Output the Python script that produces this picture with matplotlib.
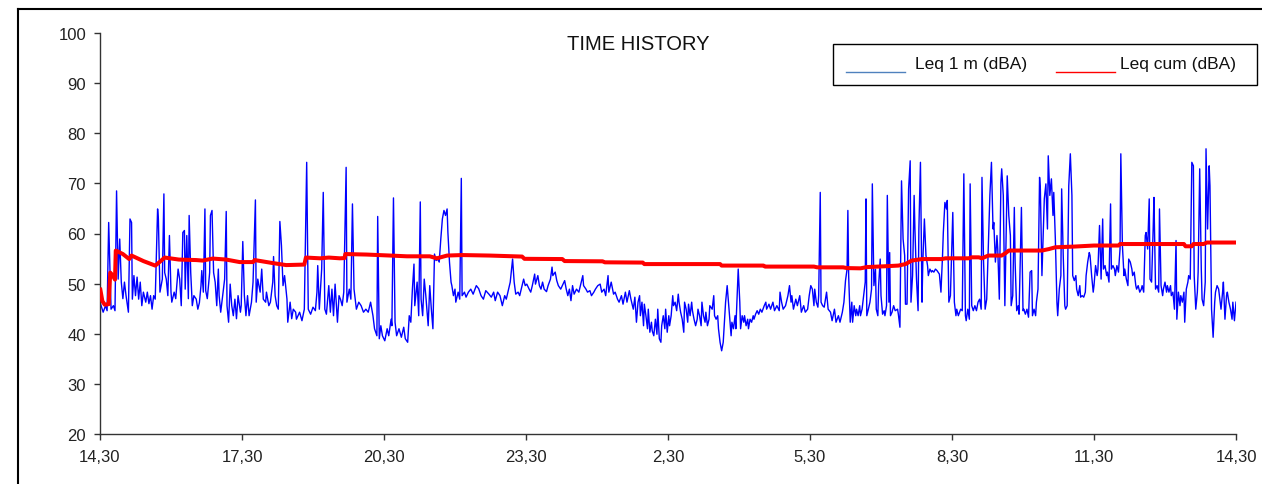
import matplotlib
matplotlib.use("Agg")
import matplotlib.pyplot as plt
from matplotlib.lines import Line2D
from matplotlib.patches import Rectangle

plt.rcParams['font.family'] = ['Liberation Sans', 'DejaVu Sans']

# ---------------- data (minutes after 14:30, dBA) ----------------
leq1m_1430_1730 = [(0,46.3),(4,44.3),(7,45.6),(9,44.6),(11,62.2),(14,44.9),(17,45.6),(19,44.6),(21,68.5),(23,50.9),(25,58.9),(27,50.3),(29,47.0),(31,50.3),(33,47.6),(36,44.3),(38,62.9),(40,62.2),(41,46.9),(43,51.6),(45,47.6),(47,51.3),(49,46.9),(51,50.3),(53,45.6),(55,48.3),(58,46.3),(60,48.3),(62,46.0),(64,47.6),(66,44.9),(68,47.6),(70,46.9),(73,64.9),(74,62.9),(76,48.3),(79,50.9),(81,67.9),(82,52.2),(84,50.9),(86,47.6),(88,59.6),(90,48.3),(91,46.3),(94,48.3),(96,47.0),(99,52.9),(101,50.9),(103,45.6),(105,60.2),(107,60.6),(108,48.9),(110,59.6),(112,47.0),(113,63.6),(115,52.2),(117,45.6),(119,47.6),(122,46.9),(124,44.9),(126,46.2),(128,49.6),(129,52.6),(131,48.3),(133,64.9),(134,48.6),(136,47.0),(139,52.2),(140,63.6),(142,64.6),(144,52.2),(146,50.3),(148,45.6),(150,52.9),(151,47.6),(153,44.3),(156,48.3),(158,50.9),(160,64.4),(161,45.6),(163,42.3),(165,49.9),(167,45.6),(169,43.6),(171,46.9),(173,43.0),(175,47.6),(178,44.3),(179,45.6)]
leq1m_1730_2030 = [(181,58.4),(183,47.6),(185,43.6),(187,47.6),(189,43.6),(192,46.3),(194,50.3),(197,66.7),(198,46.3),(200,50.9),(203,48.3),(205,52.9),(207,46.9),(210,46.3),(211,48.3),(214,45.6),(216,46.3),(219,50.3),(220,55.4),(222,47.6),(224,45.6),(226,44.9),(228,62.4),(230,57.6),(232,49.6),(234,51.6),(237,46.9),(238,42.3),(241,46.3),(243,43.0),(245,44.9),(248,44.3),(249,42.9),(253,44.3),(256,42.6),(259,44.9),(262,74.2),(264,44.9),(267,43.9),(270,45.3),(273,44.6),(275,48.3),(276,53.6),(278,44.9),(281,52.9),(283,68.2),(285,44.9),(287,43.9),(290,49.6),(292,44.3),(294,48.9),(296,43.6),(298,49.9),(301,42.3),(303,47.6),(305,46.8),(307,45.6),(309,48.3),(312,73.2),(313,46.3),(316,48.9),(318,46.9),(320,65.9),(322,48.9),(325,44.9),(328,46.3),(331,45.6),(334,44.3),(337,44.9),(340,44.3),(343,46.3),(346,43.6),(348,41.0),(351,39.6),(352,63.4),(354,39.0),(356,41.6),(358,39.6)]
leq1m_2030_2330 = [(361,38.6),(364,41.0),(366,39.6),(369,42.9),(370,41.6),(372,67.1),(374,42.3),(376,39.6),(379,41.0),(382,39.3),(385,41.3),(387,39.0),(390,38.3),(392,43.6),(394,42.3),(396,48.9),(398,53.9),(399,45.6),(402,50.3),(404,43.6),(406,66.3),(407,46.9),(409,43.6),(411,50.9),(413,47.6),(416,41.6),(418,49.6),(420,44.9),(422,41.0),(424,55.9),(426,54.6),(428,54.9),(430,54.3),(432,58.9),(434,62.9),(436,64.6),(438,63.6),(440,64.9),(441,60.2),(443,54.3),(445,50.3),(446,49.6),(448,47.6),(450,48.9),(451,46.3),(454,48.3),(456,46.9),(458,71.0),(459,47.6),(462,48.3),(464,47.3),(467,48.3),(470,48.9),(473,47.9),(477,49.6),(480,49.0),(483,47.6),(486,46.9),(489,48.6),(493,47.9),(496,47.3),(499,48.3),(501,46.6),(504,48.3),(507,47.6),(510,45.6),(513,47.6),(515,46.9),(518,48.9),(520,50.3),(523,54.9),(525,50.3),(527,47.9),(530,48.3),(532,47.6),(535,49.6),(537,50.9),(539,49.6)]
leq1m_2330_0230 = [(541,49.9),(544,48.9),(546,48.3),(548,49.6),(551,51.9),(552,49.9),(555,51.6),(557,49.6),(559,48.9),(561,50.3),(563,48.9),(566,48.4),(568,49.6),(571,50.9),(573,53.3),(574,51.6),(577,52.3),(579,50.6),(581,49.6),(584,48.9),(586,49.6),(589,50.6),(591,48.9),(593,47.6),(595,48.9),(597,46.6),(599,49.6),(601,47.9),(604,48.9),(607,48.3),(609,49.6),(612,51.6),(613,49.6),(616,48.9),(618,48.3),(621,48.6),(623,47.6),(626,48.3),(628,48.9),(631,49.6),(634,49.9),(636,48.3),(639,48.9),(641,47.6),(644,51.6),(645,48.3),(648,50.3),(651,47.9),(653,48.3),(656,46.9),(658,46.3),(661,47.6),(663,45.9),(666,48.3),(668,46.3),(671,48.6),(673,46.9),(676,44.9),(678,47.3),(680,42.3),(682,46.3),(684,47.6),(685,43.6),(687,46.3),(689,41.6),(690,45.9),(692,43.6),(694,41.0),(695,44.9),(697,40.3),(699,42.3),(700,40.6),(702,39.6),(704,42.9),(706,39.9),(707,44.9),(709,39.0),(711,38.3),(712,41.6),(714,43.6),(716,41.0),(717,44.9),(719,40.3)]
leq1m_0230_0530 = [(721,43.6),(722,41.6),(724,43.6),(726,47.6),(727,45.6),(729,46.3),(731,44.6),(733,47.9),(734,46.3),(736,44.3),(738,42.9),(740,40.3),(741,46.3),(743,44.9),(745,42.3),(746,45.9),(748,43.6),(750,46.3),(751,44.6),(753,42.9),(755,41.6),(757,42.9),(758,44.9),(760,43.6),(762,41.6),(763,46.3),(765,43.6),(767,42.3),(768,44.3),(770,41.6),(772,42.9),(773,45.6),(776,44.9),(778,47.6),(779,43.6),(781,42.9),(783,43.6),(784,41.0),(786,38.3),(788,36.6),(790,38.3),(791,41.0),(793,46.3),(795,49.6),(796,47.6),(798,43.6),(800,39.6),(801,42.3),(803,41.0),(805,43.6),(806,41.0),(809,52.9),(811,46.3),(812,41.0),(814,43.6),(816,42.3),(817,43.6),(819,41.6),(821,42.9),(822,41.0),(824,42.9),(826,42.3),(828,43.6),(829,42.9),(831,43.9),(833,44.6),(835,43.9),(837,44.9),(839,44.3),(842,45.6),(844,46.3),(845,44.9),(848,45.9),(850,44.9),(853,46.3),(855,44.6),(858,45.6),(861,44.6),(862,48.3),(864,46.3),(866,44.9),(869,45.6),(872,47.6),(874,49.6),(876,46.3),(877,47.6),(879,44.9),(882,46.9),(884,45.6),(887,47.6),(889,44.3),(892,45.6),(894,44.3),(897,44.9),(899,47.6)]
leq1m_0530_0830 = [(901,49.6),(903,48.9),(905,45.6),(906,48.9),(908,46.3),(910,45.3),(911,47.6),(913,68.2),(914,46.3),(916,45.6),(918,45.3),(921,48.3),(923,44.9),(926,44.3),(928,42.6),(931,44.9),(933,42.3),(936,43.6),(938,42.3),(941,44.3),(943,46.3),(945,50.6),(947,52.9),(948,64.6),(949,51.6),(951,42.3),(953,46.3),(954,42.3),(956,45.6),(958,43.6),(959,44.9),(961,43.6),(963,45.6),(964,43.6),(966,44.9),(968,47.6),(970,50.3),(971,66.9),(972,43.6),(974,44.9),(976,46.3),(978,48.9),(979,69.9),(981,49.6),(983,52.9),(984,44.9),(986,43.6),(987,49.6),(989,54.9),(990,47.6),(992,43.9),(994,44.6),(995,43.6),(997,45.6),(998,67.6),(1000,46.3),(1001,56.2),(1002,43.6),(1004,44.3),(1006,45.6),(1008,44.6),(1011,44.9),(1012,43.9),(1014,41.3),(1016,70.5),(1018,58.9),(1020,55.6),(1021,45.9),(1023,45.9),(1025,68.9),(1027,74.5),(1028,46.3),(1030,51.6),(1032,67.6),(1033,60.9),(1035,50.9),(1037,44.6),(1038,60.9),(1040,74.2),(1042,46.3),(1043,54.3),(1045,62.9),(1047,55.6),(1049,53.6),(1050,51.6),(1052,52.9),(1054,52.3),(1055,52.6),(1057,52.3),(1059,52.9),(1061,52.6),(1064,51.9),(1066,48.3),(1068,55.6),(1069,60.2),(1071,66.2),(1073,64.9),(1074,66.6),(1076,46.3),(1078,47.6)]
leq1m_0830_1130 = [(1080,58.9),(1081,64.2),(1083,46.3),(1085,43.6),(1086,44.9),(1088,43.6),(1091,44.9),(1093,44.6),(1095,71.9),(1097,43.6),(1098,42.6),(1100,44.9),(1102,42.9),(1103,69.9),(1105,45.6),(1107,44.6),(1109,45.6),(1111,44.6),(1113,46.3),(1115,46.9),(1117,44.9),(1118,71.2),(1120,54.3),(1122,44.9),(1124,46.9),(1126,56.9),(1128,67.6),(1130,74.2),(1132,60.9),(1133,62.2),(1135,54.3),(1137,59.6),(1138,56.9),(1140,46.9),(1142,70.2),(1143,72.9),(1145,67.6),(1147,45.6),(1148,54.3),(1150,71.5),(1152,63.6),(1154,59.6),(1155,45.6),(1157,47.6),(1159,65.2),(1160,54.3),(1162,44.6),(1164,45.6),(1165,43.9),(1168,65.2),(1170,44.6),(1171,44.9),(1173,43.9),(1175,44.9),(1177,43.3),(1179,52.3),(1181,52.6),(1182,43.6),(1184,44.9),(1186,43.6),(1187,46.3),(1189,48.9),(1191,71.2),(1192,68.9),(1194,51.6),(1196,62.2),(1197,66.9),(1199,69.9),(1201,60.9),(1202,75.5),(1204,67.6),(1206,70.9),(1208,63.6),(1209,68.2),(1211,58.9),(1213,46.3),(1214,43.6),(1216,48.9),(1218,51.6),(1219,68.9),(1221,55.6),(1223,45.6),(1224,44.9),(1226,45.6),(1228,69.5),(1230,75.9),(1232,67.6),(1233,51.6),(1235,50.6),(1237,51.6),(1238,48.9),(1240,47.6),(1242,49.6),(1243,47.3),(1245,47.6),(1247,47.3),(1249,48.3),(1250,51.6),(1252,54.3),(1254,56.2),(1255,55.6),(1257,51.6),(1259,48.3)]
leq1m_1130_1430 = [(1260,49.6),(1262,53.6),(1264,51.6),(1265,52.9),(1267,61.6),(1269,50.9),(1271,62.9),(1272,52.9),(1274,53.6),(1276,51.6),(1277,52.3),(1279,50.3),(1281,65.9),(1282,52.9),(1284,53.6),(1286,52.9),(1287,51.6),(1289,53.6),(1291,52.3),(1293,56.9),(1294,75.9),(1296,57.6),(1298,51.6),(1299,52.9),(1301,50.9),(1303,49.6),(1304,54.9),(1306,54.3),(1308,52.9),(1309,51.6),(1311,52.3),(1313,49.6),(1314,48.9),(1316,49.6),(1318,48.3),(1320,48.9),(1321,49.6),(1323,48.3),(1325,59.6),(1326,60.2),(1328,56.9),(1330,66.9),(1331,50.9),(1333,50.3),(1335,60.9),(1336,67.2),(1338,48.9),(1340,49.6),(1342,48.3),(1343,64.9),(1345,49.6),(1347,47.6),(1348,48.9),(1350,50.3),(1352,48.3),(1353,49.6),(1355,48.3),(1357,49.6),(1358,47.6),(1360,48.3),(1362,44.9),(1364,58.6),(1365,42.9),(1367,48.3),(1369,45.6),(1370,47.6),(1372,46.3),(1374,48.3),(1375,42.3),(1377,48.9),(1379,50.3),(1380,51.6),(1382,50.9),(1384,74.2),(1386,73.5),(1387,51.6),(1389,44.9),(1391,48.3),(1392,52.3),(1394,72.9),(1396,52.9),(1397,46.9),(1399,45.6),(1401,50.3),(1402,76.9),(1404,60.9),(1406,73.5),(1407,69.5),(1409,44.9),(1411,39.3),(1413,46.3),(1414,48.3),(1416,49.6),(1418,48.9),(1419,47.6),(1421,44.9),(1423,48.3),(1424,50.3),(1426,42.9),(1428,47.6),(1429,48.3),(1431,46.3),(1433,44.9),(1435,42.9),(1436,46.3),(1438,42.6),(1440,46.3)]

leq_cum = [(0,49.2),(3,46.5),(6,45.8),(11,45.9),(13,52.2),(17,51.4),(19,50.8),(20,56.6),(29,55.9),(37,54.9),(40,55.6),(55,54.5),(70,53.6),(74,54.1),(82,55.2),(100,54.8),(122,54.7),(130,54.6),(143,55.0),(160,54.8),(177,54.3),(194,54.3),(196,54.7),(219,54.1),(236,53.7),(259,53.8),(261,55.2),(279,55.05),(290,55.2),(304,55.05),(310,55.1),(311,55.9),(338,55.8),(368,55.6),(389,55.45),(418,55.45),(427,55.05),(440,55.6),(459,55.7),(494,55.6),(535,55.4),(538,54.95),(586,54.9),(589,54.5),(637,54.45),(640,54.25),(688,54.2),(690,53.9),(786,53.9),(788,53.6),(841,53.6),(843,53.4),(905,53.4),(909,53.25),(942,53.25),(947,53.1),(964,53.05),(972,53.3),(1000,53.5),(1012,53.6),(1021,53.9),(1029,54.6),(1042,54.9),(1067,54.9),(1072,55.05),(1101,55.05),(1105,55.25),(1114,55.25),(1118,55.05),(1126,55.6),(1143,55.6),(1148,56.1),(1152,56.6),(1194,56.6),(1203,56.9),(1211,57.25),(1236,57.4),(1260,57.6),(1291,57.6),(1293,57.9),(1374,57.9),(1376,57.45),(1384,57.45),(1386,57.9),(1399,57.9),(1403,58.2),(1440,58.2)]

x_tick_minutes = [0, 180, 360, 540, 720, 900, 1080, 1260, 1440]
x_tick_labels = ['14,30', '17,30', '20,30', '23,30', '2,30', '5,30', '8,30', '11,30', '14,30']
y_ticks = [20, 30, 40, 50, 60, 70, 80, 90, 100]
series_labels = ['Leq 1 m (dBA)', 'Leq cum (dBA)']
chart_title = 'TIME HISTORY'

# ---------------- figure ----------------
W, H = 1262, 485
fig = plt.figure(figsize=(W / 100, H / 100), dpi=100)
fig.patch.set_facecolor('white')

def fx(px):
    return px / W

def fy(py):
    return 1 - py / H

ax = fig.add_axes([fx(100), fy(435), fx(1236) - fx(100), fy(34) - fy(435)])

blue_pts = (leq1m_1430_1730 + leq1m_1730_2030 + leq1m_2030_2330 + leq1m_2330_0230 +
            leq1m_0230_0530 + leq1m_0530_0830 + leq1m_0830_1130 + leq1m_1130_1430)
bt = [p[0] for p in blue_pts]
bv = [p[1] for p in blue_pts]
rt = [p[0] for p in leq_cum]
rv = [p[1] for p in leq_cum]

ax.plot(bt, bv, color='#0000FF', lw=1.0, zorder=2)
ax.plot(rt, rv, color='#FF0000', lw=2.9, zorder=3, solid_capstyle='butt')

ax.set_xlim(0, 1440)
ax.set_ylim(20, 100)
ax.set_xticks(x_tick_minutes)
ax.set_xticklabels(x_tick_labels)
ax.set_yticks(y_ticks)

for s in ['top', 'right']:
    ax.spines[s].set_visible(False)
for s in ['left', 'bottom']:
    ax.spines[s].set_color('#333333')
    ax.spines[s].set_linewidth(1.0)

ax.tick_params(axis='both', direction='out', length=4, width=1.0, color='#333333',
               labelsize=12, labelcolor='#222222')
ax.tick_params(axis='y', pad=6)
ax.tick_params(axis='x', pad=7)

ax.text((638 - 100) / 1136, (435 - 44) / 401, chart_title, transform=ax.transAxes,
        ha='center', va='center', fontsize=14.5, color='#111111')

# outer chart frame (cropped at right/bottom)
fig.add_artist(Line2D([fx(17.5), fx(17.5)], [fy(10), fy(H + 5)], color='black', lw=1.5))
fig.add_artist(Line2D([fx(17.5), fx(W + 5)], [fy(10), fy(10)], color='black', lw=1.5))

# legend box
fig.add_artist(Rectangle((fx(833), fy(86)), fx(1257) - fx(833), fy(45) - fy(86),
                         transform=fig.transFigure, facecolor='white', edgecolor='black',
                         lw=1.0, zorder=5))
fig.add_artist(Line2D([fx(846), fx(905)], [fy(72.5), fy(72.5)], color='#4F81BD', lw=1.0, zorder=6))
fig.text(fx(915), fy(64), series_labels[0], ha='left', va='center', fontsize=12.5,
         color='#111111', zorder=6)
fig.add_artist(Line2D([fx(1056), fx(1115)], [fy(72.5), fy(72.5)], color='#FF0000', lw=1.0, zorder=6))
fig.text(fx(1120), fy(64), series_labels[1], ha='left', va='center', fontsize=12.5,
         color='#111111', zorder=6)

fig.savefig('out.png', dpi=100, facecolor='white')
